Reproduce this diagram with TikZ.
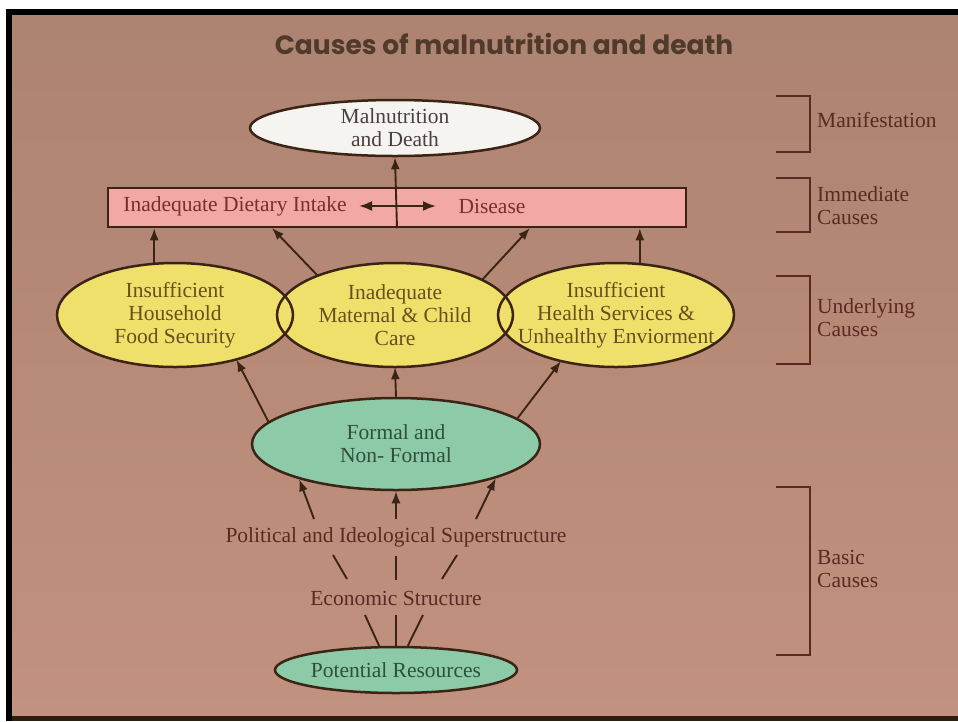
\documentclass[tikz,border=0pt]{standalone}
\usepackage{fontspec}
\setmainfont{Liberation Serif}
\newfontfamily\titlefont{Poppins}
\usetikzlibrary{arrows.meta,shapes.geometric,calc}
\definecolor{bgtop}{HTML}{AD8371}
\definecolor{bgbot}{HTML}{C2917F}
\definecolor{ink}{HTML}{3B2414}
\definecolor{pinkf}{HTML}{F2A8A4}
\definecolor{yellowf}{HTML}{EFE06C}
\definecolor{greenf}{HTML}{8CCAA8}
\definecolor{whitef}{HTML}{F5F4F1}
\definecolor{maroon}{HTML}{7B2E2E}
\definecolor{olive}{HTML}{66501E}
\definecolor{dgreen}{HTML}{2F4F3A}
\definecolor{dgray}{HTML}{4A4040}
\definecolor{brownt}{HTML}{5A2A22}
\begin{document}
\begin{tikzpicture}[x=1pt,y=-1pt,
  txt/.style={font=\fontsize{21.5}{23}\selectfont,align=center,inner sep=0pt},
  yell/.style={ellipse,fill=yellowf,minimum width=236pt,minimum height=104pt,inner sep=0pt},
  ytxt/.style={txt,text=olive},
  arr/.style={-{Latex[length=12pt,width=9pt]},line width=1.9pt,draw=ink},
  plain/.style={line width=1.9pt,draw=ink},
  brk/.style={line width=2.4pt,draw=brownt},
  brklab/.style={txt,anchor=west,align=left,text=brownt}]
\useasboundingbox (0,0) rectangle (958,721);
\fill[white] (0,0) rectangle (958,721);
\shade[top color=bgtop,bottom color=bgbot] (12,15) rectangle (958,716);
\fill[black] (6,9) rectangle (958,15);
\fill[black] (6,9) rectangle (12,721);
\fill[ink!80!black] (12,716) rectangle (958,721);
% title
\node[font=\titlefont\bfseries\fontsize{26.5}{28}\selectfont,text=ink!90] (title) at (504,44) {Causes of malnutrition and death};
% manifestation
\node[ellipse,draw=ink,line width=2.5pt,fill=whitef,minimum width=290pt,minimum height=56pt,inner sep=0pt] (mal) at (395,128) {};
\node[txt,text=dgray] (malt) at (mal.center) {Malnutrition\\and Death};
% immediate
\node[draw=ink,line width=2.5pt,fill=pinkf,minimum width=578pt,minimum height=39pt,inner sep=0pt] (imm) at (397,207.5) {};
\node[txt,text=maroon] (diet) at (235,206) {Inadequate Dietary Intake};
\node[txt,text=maroon] (dis) at (492,206) {Disease};
\draw[arr] (imm.south) -- (mal.south);
\coordinate (dl) at (359,206);
\coordinate (dr) at (436,206);
\draw[{Latex[length=13pt,width=10pt]}-{Latex[length=13pt,width=10pt]},line width=2.2pt,draw=ink] (dl) -- (dr);
% underlying
\node[yell] (fs) at (175,315) {};
\node[yell] (care) at (395,315) {};
\node[yell] (hs) at (616,315) {};
\node[ytxt] (fst) at (fs.center) {Insufficient\\Household\\Food Security};
\node[ytxt] (caret) at (care.center) {Inadequate\\Maternal \& Child\\Care};
\node[ytxt] (hst) at (hs.center) {Insufficient\\Health Services \&\\Unhealthy Enviorment};
\draw[ink,line width=2.5pt] (fs.center) ellipse [x radius=118, y radius=52];
\draw[ink,line width=2.5pt] (care.center) ellipse [x radius=118, y radius=52];
\draw[ink,line width=2.5pt] (hs.center) ellipse [x radius=118, y radius=52];
\coordinate (t2) at (272,228);
\coordinate (t3) at (530,228);
\draw[arr] (fs.112) -- (fs.112 |- imm.south);
\draw[arr] (care.153) -- (t2);
\draw[arr] (care.22) -- (t3);
\draw[arr] (hs.65) -- (hs.65 |- imm.south);
% formal
\node[ellipse,draw=ink,line width=2.5pt,fill=greenf,minimum width=288pt,minimum height=92pt,inner sep=0pt] (formal) at (396,444) {};
\node[txt,text=dgreen] (formalt) at (formal.center) {Formal and\\Non- Formal};
\draw[arr] (formal.170) -- (fs.-36);
\draw[arr] (formal.north) -- (care.south);
\draw[arr] (formal.12) -- (hs.-140);
% basic
\node[txt,text=brownt] (pol) at (396,537) {Political and Ideological Superstructure};
\coordinate (p1) at (314,519);
\coordinate (p2) at (396,519);
\coordinate (p3) at (476,519);
\draw[arr] (p1) -- (formal.-160);
\draw[arr] (p2) -- (formal.south);
\draw[arr] (p3) -- (formal.-19);
\node[txt,text=brownt] (eco) at (396,598) {Economic Structure};
\coordinate (a1) at (333,555); \coordinate (b1) at (347,579);
\coordinate (a2) at (396,556); \coordinate (b2) at (396,580);
\coordinate (a3) at (457,555); \coordinate (b3) at (442,579);
\draw[plain] (a1) -- (b1);
\draw[plain] (a2) -- (b2);
\draw[plain] (a3) -- (b3);
\node[ellipse,draw=ink,line width=2.5pt,fill=greenf,minimum width=242pt,minimum height=46pt,inner sep=0pt] (pot) at (396,670) {};
\node[txt,text=dgreen] (pott) at (pot.center) {Potential Resources};
\coordinate (e1) at (365,615);
\coordinate (e2) at (396,615);
\coordinate (e3) at (423,615);
\draw[plain] (e1) -- (pot.125);
\draw[plain] (e2) -- (pot.north);
\draw[plain] (e3) -- (pot.64);
% brackets
\draw[brk] (776,96) -- (810,96) -- (810,152) -- (776,152);
\node[brklab] (lman) at (817,120) {Manifestation};
\draw[brk] (776,178) -- (810,178) -- (810,232) -- (776,232);
\node[brklab] (limm) at (817,206) {Immediate\\Causes};
\draw[brk] (776,276) -- (810,276) -- (810,364) -- (776,364);
\node[brklab] (lund) at (817,318) {Underlying\\Causes};
\draw[brk] (776,487) -- (810,487) -- (810,655) -- (776,655);
\node[brklab] (lbas) at (817,569) {Basic\\Causes};
\end{tikzpicture}
\end{document}
